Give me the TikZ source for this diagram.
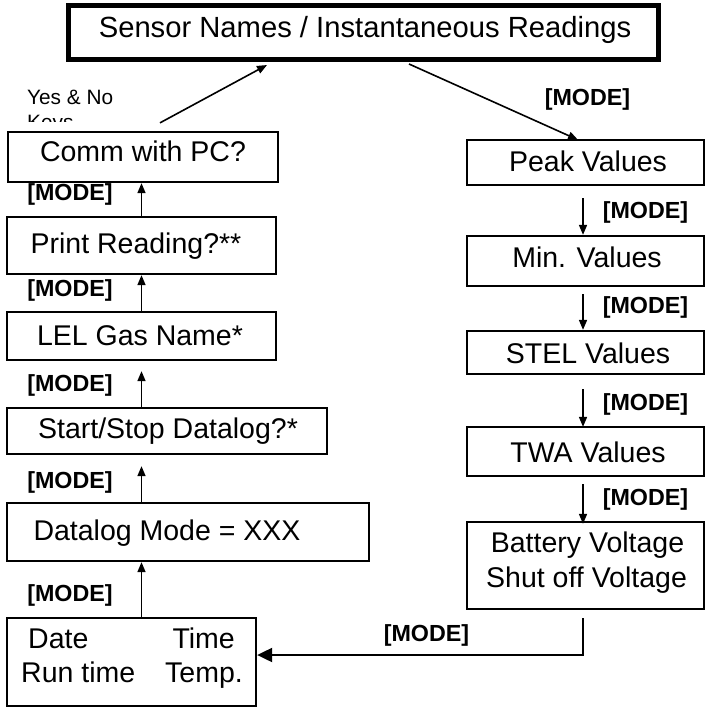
\documentclass[tikz,border=0pt]{standalone}
\usepackage{fontspec}
\setmainfont{Liberation Sans}
\usetikzlibrary{arrows.meta,calc}
\begin{document}
\begin{tikzpicture}[x=1pt,y=-1pt,
  box/.style={draw, line width=2.3pt, inner sep=0pt, rectangle},
  txt/.style={inner sep=0pt, font=\fontsize{28.5}{33}\selectfont, anchor=base},
  modelbl/.style={inner sep=0pt, font=\fontsize{23.3}{27}\selectfont\bfseries, anchor=base},
  arr/.style={line width=1.6pt, -{Triangle[length=10pt,width=8pt]}},
  bigarr/.style={line width=2pt, -{Triangle[length=15pt,width=14pt]}},
]
\useasboundingbox (0,0) rectangle (705,708);

% boxes
\node[box, line width=5pt, minimum width=590pt, minimum height=54pt] (top) at (363,32.5) {};
\node[box, minimum width=270pt, minimum height=50pt] (comm) at (143,157) {};
\node[box, minimum width=269pt, minimum height=57pt] (print) at (141.5,245.5) {};
\node[box, minimum width=269pt, minimum height=48pt] (lel) at (141.5,336) {};
\node[box, minimum width=320pt, minimum height=46pt] (start) at (167,431) {};
\node[box, minimum width=362pt, minimum height=58pt] (datalog) at (188,532) {};
\node[box, minimum width=249pt, minimum height=88pt] (date) at (131.5,662) {};

\node[box, minimum width=237pt, minimum height=45pt] (peak) at (585.5,162.5) {};
\node[box, minimum width=237pt, minimum height=50pt] (min) at (585.5,261) {};
\node[box, minimum width=237pt, minimum height=43pt] (stel) at (585.5,352.5) {};
\node[box, minimum width=237pt, minimum height=49pt] (twa) at (585.5,451.5) {};
\node[box, minimum width=237pt, minimum height=87pt] (battery) at (585.5,565.5) {};

% texts
\node[txt, font=\fontsize{29.2}{33}\selectfont] (toptext) at (365,38) {Sensor Names / Instantaneous Readings};
\node[txt] (commtext) at (143,162) {Comm with PC?};
\node[txt] (printtext) at (136,254) {Print Reading?**};
\node[txt] (leltext) at (140,345) {LEL Gas Name*};
\node[txt] (starttext) at (168,438) {Start/Stop Datalog?*};
\node[txt] (datalogtext) at (167,540) {Datalog Mode = XXX};
\node[txt, anchor=base west] (datetext) at (28,648) {Date};
\node[txt, anchor=base east] (timetext) at (235,648) {Time};
\node[txt, anchor=base west] (runtext) at (21,682) {Run time};
\node[txt, anchor=base east] (temptext) at (243,682) {Temp.};

\node[txt] (peaktext) at (588,172) {Peak Values};
\node[txt] (mintext) at (587,267) {Min. Values};
\node[txt] (steltext) at (588,363) {STEL Values};
\node[txt] (twatext) at (588,462) {TWA Values};
\node[txt] (battext) at (587.5,552) {Battery Voltage};
\node[txt] (shuttext) at (586.5,587) {Shut off Voltage};

% yes & no keys (clipped)
\node[inner sep=0pt, anchor=base west, font=\fontsize{20.8}{24}\selectfont] (yesno) at (27,105) {Yes \& No};
\begin{scope}
\clip (0,0) rectangle (300,122);
\node[inner sep=0pt, anchor=base west, font=\fontsize{20.8}{24}\selectfont] (keys) at (27,130) {Keys};
\end{scope}

% [MODE] labels
\node[modelbl] (m1) at (70,201) {[MODE]};
\node[modelbl] (m2) at (70,296) {[MODE]};
\node[modelbl] (m3) at (70,391) {[MODE]};
\node[modelbl] (m4) at (70,488) {[MODE]};
\node[modelbl] (m5) at (70,601) {[MODE]};
\node[modelbl] (m6) at (587.5,106) {[MODE]};
\node[modelbl] (m7) at (645.5,219) {[MODE]};
\node[modelbl] (m8) at (645.5,313) {[MODE]};
\node[modelbl] (m9) at (645.5,410) {[MODE]};
\node[modelbl] (m10) at (645.5,505) {[MODE]};
\node[modelbl] (m11) at (426.5,641) {[MODE]};

% connectors
\draw[arr] ($(comm.north)+(17,-8)$) -- ($(top.south)+(-96,3)$);
\draw[arr] ($(top.south)+(46,2)$) -- ($(peak.north)+(-7.5,1)$);

\draw[arr] (print.north) -- (print.north |- comm.south);
\draw[arr] (lel.north) -- (lel.north |- print.south);
\draw[arr] (start.north -| lel.north) -- ($(lel.south)+(0,10)$);
\draw[arr] (datalog.north -| lel.north) -- ($(start.south -| lel.south)+(0,11)$);
\draw[arr] (date.north -| lel.north) -- (datalog.south -| lel.north);

\draw[arr] ($(peak.south)+(-2.5,12)$) -- ($(min.north)+(-2.5,0)$);
\draw[arr] ($(min.south)+(-2.5,7)$) -- ($(stel.north)+(-2.5,0)$);
\draw[arr] ($(stel.south)+(-2.5,14)$) -- ($(twa.north)+(-2.5,1)$);
\draw[arr] ($(twa.south)+(-2.5,7)$) -- ($(battery.north)+(-2.5,3)$);
\draw[bigarr] ($(battery.south)+(-2.5,8)$) |- ($(date.east)+(0,-7)$);
\end{tikzpicture}
\end{document}
